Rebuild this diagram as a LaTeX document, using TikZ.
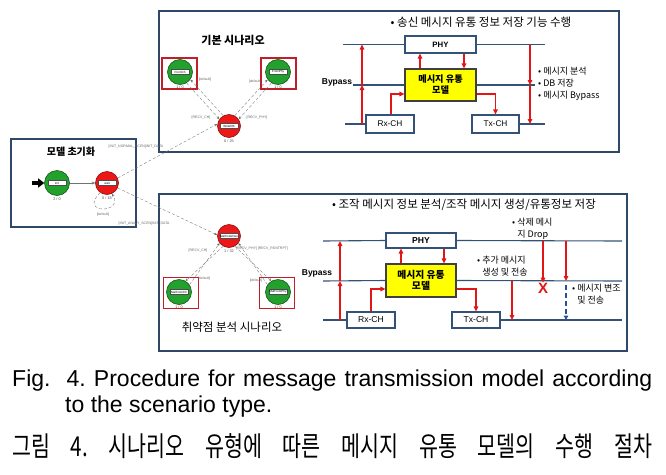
\documentclass[tikz,border=0pt]{standalone}
\usepackage{fontspec}
\setmainfont{Liberation Sans}
\newfontfamily\krfont{Noto Sans CJK KR}
\newfontfamily\krcap[FakeStretch=0.75]{Noto Sans CJK KR}
\usetikzlibrary{arrows.meta,calc,positioning}
\definecolor{framebl}{RGB}{47,72,104}
\definecolor{busbl}{RGB}{52,82,118}
\definecolor{flowred}{RGB}{226,22,22}
\definecolor{stgreen}{RGB}{34,162,44}
\definecolor{stred}{RGB}{236,24,24}
\definecolor{boxred}{RGB}{192,30,40}
\definecolor{coreyel}{RGB}{255,255,0}
\definecolor{modblue}{RGB}{40,80,150}
\frenchspacing

\tikzset{
 frame/.style={draw=framebl,line width=1.3pt},
 bus/.style={draw=busbl,line width=1.1pt},
 blk/.style={draw=busbl,line width=1.1pt,fill=white,inner sep=0pt},
 core/.style={blk,fill=coreyel,draw=black!75,align=center,
   font=\krfont\bfseries\fontsize{9.2}{11}\selectfont},
 flow/.style={draw=flowred,line width=1.4pt,-{Triangle[length=5pt,width=4.5pt]}},
 bypass/.style={font=\bfseries\fontsize{8.5}{10}\selectfont,inner sep=0pt},
 stok/.style={circle,fill=stgreen,draw=stgreen!55!black,line width=0.6pt,
   minimum size=25pt,inner sep=0pt},
 stbad/.style={stok,fill=stred,draw=stred!60!black,minimum size=23pt},
 stname/.style={fill=white,draw=black!70,line width=0.3pt,inner sep=0.5pt,
   minimum width=18pt,minimum height=5pt,font=\fontsize{3}{3}\selectfont},
 cnt/.style={font=\fontsize{3.8}{4}\selectfont,text=black!70,inner sep=0.5pt},
 move/.style={draw=black!55,line width=0.5pt,-{Stealth[length=3.5pt,width=3pt]}},
 trans/.style={draw=black!55,densely dashed,line width=0.35pt,
   -{Stealth[length=3pt,width=2.5pt]}},
 tlab/.style={font=\fontsize{3.5}{4}\selectfont,text=black!60,inner sep=0.5pt},
 hlbox/.style={draw=boxred,line width=1.1pt,minimum width=35pt,minimum height=31pt},
 ttl/.style={font=\krfont\fontsize{11.5}{13}\selectfont},
 note/.style={font=\krfont\fontsize{9}{12}\selectfont,align=left,inner sep=0pt},
}

\begin{document}
\begin{tikzpicture}[x=1pt,y=-1pt,>=Stealth]
\useasboundingbox (0,0) rectangle (666,474);

% frames
\draw[frame] (11,139) rectangle (136,227);
\draw[frame] (159,11) rectangle (619,152);
\draw[frame] (159,194) rectangle (627,351);

% model initialisation
\node[font=\krfont\bfseries\fontsize{10}{12}\selectfont] (initttl) at (71,152) {모델 초기화};
\node[stok,label={[stname]center:init}] (init) at (57,183) {};
\node[stbad,label={[stname]center:wait}] (wait) at (107,183) {};
\node[cnt,below=1pt of init] (initcnt) {2 / 0};
\node[cnt,below=1pt of wait] (waitcnt) {0 / 18};
\coordinate (entry) at (32,183);
\draw[-{Triangle[length=6pt,width=9pt]},line width=3.2pt] (entry) -- (init);
\draw[move] (init) -- (wait);
\draw[trans] (wait.235) .. controls (78,214) and (124,214) .. (wait.295);
\node[tlab] (looplab) at (103,215) {[default]};

% basic scenario
\node[font=\krfont\bfseries\fontsize{11}{13}\selectfont] (basettl) at (233,40) {기본 시나리오};
\node[stok,label={[stname]center:FromCh}] (FromCh) at (180,72) {};
\node[stok,label={[stname]center:FromPhy}] (FromPhy) at (278,72) {};
\node[stbad,label={[stname]center:WriteDB}] (WriteDB) at (229,126) {};
\node[hlbox] (FromChbox) at (179.5,73.5) {};
\node[hlbox] (FromPhybox) at (278.5,73.5) {};
\node[cnt,below=0.5pt of FromCh] (FromChcnt) {1 / 0};
\node[cnt,below=0.5pt of FromPhy] (FromPhycnt) {1 / 0};
\node[cnt,below=1pt of WriteDB] (WriteDBcnt) {0 / 25};
\draw[trans] (WriteDB.119) -- (FromCh.-36);
\draw[trans] (FromCh.-59) -- (WriteDB.145);
\draw[trans] (WriteDB.61) -- (FromPhy.-144);
\draw[trans] (FromPhy.-121) -- (WriteDB.35);
\node[tlab] (lab1) at (205,80) {[default]};
\node[tlab] (lab2) at (201,118) {[RECV\_CH]};
\node[tlab] (lab3) at (255,82) {[default]};
\node[tlab] (lab4) at (257,118) {[RECV\_PHY]};
\draw[trans] (wait.25) -- (WriteDB.170);
\node[tlab,anchor=west] (lab5) at (108,147) {[INIT\_NORMAL\_SCEN]INIT\_DATA};

% vulnerability scenario
\node[font=\krfont\fontsize{11.5}{13}\selectfont] (vulttl) at (232,327) {취약점 분석 시나리오};
\node[stbad,label={[stname]center:MalCodeHan}] (MalCode) at (229,236) {};
\node[stok,label={[stname]center:MalFromCh}] (MalCh) at (179,292) {};
\node[stok,label={[stname]center:MalFromPhy}] (MalPhy) at (278,292) {};
\node[hlbox] (MalChbox) at (181,293) {};
\node[hlbox] (MalPhybox) at (277,293) {};
\node[cnt,below=1pt of MalCode] (MalCodecnt) {1 / 32};
\node[cnt,below=0.5pt of MalCh,text=boxred] (MalChcnt) {1 / 0};
\node[cnt,below=0.5pt of MalPhy,text=boxred] (MalPhycnt) {1 / 0};
\draw[trans] (MalCode.-120) -- (MalCh.59);
\draw[trans] (MalCh.35) -- (MalCode.-143);
\draw[trans] (MalCode.-60) -- (MalPhy.121);
\draw[trans] (MalPhy.145) -- (MalCode.-37);
\node[tlab] (lab6) at (198,251) {[RECV\_CH]};
\node[tlab] (lab7) at (204,279) {[default]};
\node[tlab] (lab8) at (256,281) {[default]};
\node[tlab] (lab9) at (262,249) {[RECV\_PHY] [RECV\_RSNTRPT]};
\draw[trans] (wait.-25) -- (MalCode.175);
\node[tlab,anchor=west] (lab10) at (118,224) {[INIT\_ANALY\_SCEN]INIT\_DATA};

% transmit storage block diagram
\node[ttl] (ttlA) at (481,22) {•\ 송신 메시지 유통 정보 저장 기능 수행};
\node[blk,minimum width=71pt,minimum height=17pt,font=\bfseries\fontsize{7.8}{9}\selectfont] (phyA) at (440.5,44.5) {PHY};
\node[core,minimum width=71pt,minimum height=32pt] (coreA) at (440.5,85) {메시지 유통\\모델};
\node[blk,minimum width=48pt,minimum height=18pt,font=\fontsize{8.3}{9}\selectfont] (rxA) at (390,124) {Rx-CH};
\node[blk,minimum width=47pt,minimum height=18pt,font=\fontsize{8.3}{9}\selectfont] (txA) at (495.5,124) {Tx-CH};
\coordinate (aT1) at (343,44.5); \coordinate (aT2) at (545,44.5);
\coordinate (aM1) at (353,85); \coordinate (aM2) at (535,85);
\coordinate (aB1) at (345,124); \coordinate (aB2) at (545,124);
\draw[bus] (aT1) -- (phyA.west); \draw[bus] (phyA.east) -- (aT2);
\draw[bus] (aM1) -- (coreA.west); \draw[bus] (coreA.east) -- (aM2);
\draw[bus] (aB1) -- (rxA.west); \draw[bus] (txA.east) -- (aB2);
\node[bypass] (bypA) at (337,82) {Bypass};
\coordinate (aL1) at (362,124); \coordinate (aL2) at (362,85); \coordinate (aL3) at (362,44.5);
\coordinate (aR1) at (530,44.5); \coordinate (aR2) at (530,85); \coordinate (aR3) at (530,124);
\draw[flow] (aL1) -- (aL2); \draw[flow] (aL2) -- (aL3);
\draw[flow] (aR1) -- (aR2); \draw[flow] (aR2) -- (aR3);
\draw[flow] ([xshift=-20.5pt]coreA.north) -- ([xshift=-20.5pt]phyA.south);
\draw[flow] ([xshift=23.5pt]phyA.south) -- ([xshift=23.5pt]coreA.north);
\draw[flow] ([xshift=1pt]rxA.north) |- ([yshift=-9pt]coreA.west);
\draw[flow] ([yshift=-9pt]coreA.east) -| (txA.north);
\node[note,anchor=west] (noteA) at (538,84) {• 메시지 분석\\• DB 저장\\• 메시지 Bypass};

% manipulation block diagram
\node[ttl] (ttlB) at (464,205) {•\ 조작 메시지 정보 분석/조작 메시지 생성/유통정보 저장};
\node[blk,minimum width=70pt,minimum height=15pt,font=\bfseries\fontsize{8.6}{9}\selectfont] (phyB) at (421,240.5) {PHY};
\node[core,minimum width=70pt,minimum height=33pt,font=\krfont\bfseries\fontsize{9.8}{11.5}\selectfont] (coreB) at (421,280.5) {메시지 유통\\모델};
\node[blk,minimum width=48pt,minimum height=16pt,font=\fontsize{8.6}{9}\selectfont] (rxB) at (371,320) {Rx-CH};
\node[blk,minimum width=48pt,minimum height=16pt,font=\fontsize{8.6}{9}\selectfont] (txB) at (476,320) {Tx-CH};
\coordinate (bT1) at (323,241); \coordinate (bT2) at (622,241);
\coordinate (bM1) at (323,281); \coordinate (bM2) at (622,281);
\coordinate (bB1) at (323,320); \coordinate (bB2) at (622,320);
\draw[bus] (bT1) -- (phyB.west); \draw[bus] (phyB.east) -- (bT2);
\draw[bus] (bM1) -- (coreB.west); \draw[bus] (coreB.east) -- (bM2);
\draw[bus] (bB1) -- (rxB.west); \draw[bus] (txB.east) -- (bB2);
\node[bypass] (bypB) at (317,273) {Bypass};
\coordinate (bL1) at (340,320); \coordinate (bL2) at (340,281); \coordinate (bL3) at (340,241);
\draw[flow] (bL1) -- (bL2); \draw[flow] (bL2) -- (bL3);
\draw[flow] ([xshift=-20pt]coreB.north) -- ([xshift=-20pt]phyB.south);
\draw[flow] ([xshift=23pt]phyB.south) -- ([xshift=23pt]coreB.north);
\draw[flow] (rxB.north) |- ([yshift=-8.5pt]coreB.west);
\draw[flow] ([yshift=-8.5pt]coreB.east) -| (txB.north);
% added message
\coordinate (bA1) at (512,281); \coordinate (bA2) at (512,320);
\draw[flow] (bA1) -- (bA2);
\node[note,anchor=west] (noteAdd) at (477,266) {• 추가 메시지\\\hphantom{• }생성 및 전송};
% dropped message
\node[font=\bfseries\fontsize{15}{15}\selectfont,text=flowred,inner sep=0pt] (dropX) at (543,288) {X};
\coordinate (bD1) at (543,241);
\draw[flow] (bD1) -- (dropX.north);
\node[note,anchor=west] (noteDrop) at (512,228.5) {• 삭제 메시\\\hphantom{• }지 Drop};
% modified message
\coordinate (bC1) at (566,241); \coordinate (bC2) at (566,281);
\coordinate (bC3) at (566,285); \coordinate (bC4) at (566,320);
\draw[flow] (bC1) -- (bC2);
\draw[draw=modblue,line width=1.4pt,dash pattern=on 5pt off 3pt,-{Triangle[length=4.5pt,width=4.5pt]}] (bC3) -- (bC4);
\node[note,anchor=west] (noteMod) at (572,294.5) {• 메시지 변조\\\hphantom{• }및 전송};

% caption
\node[anchor=base west,inner sep=0pt] (capen) at (12,386)
 {\makebox[640pt][s]{\fontsize{23}{28}\selectfont Fig.\ \ 4. Procedure for message transmission model according}};
\node[anchor=base west,inner sep=0pt] (capen2) at (65,412)
 {\fontsize{23}{28}\selectfont to the scenario type.};
\node[anchor=base west,inner sep=0pt] (capkr) at (12,456)
 {\makebox[640pt][s]{\krcap\fontsize{27.5}{32}\selectfont 그림 4. 시나리오 유형에 따른 메시지 유통 모델의 수행 절차}};
\end{tikzpicture}
\end{document}
